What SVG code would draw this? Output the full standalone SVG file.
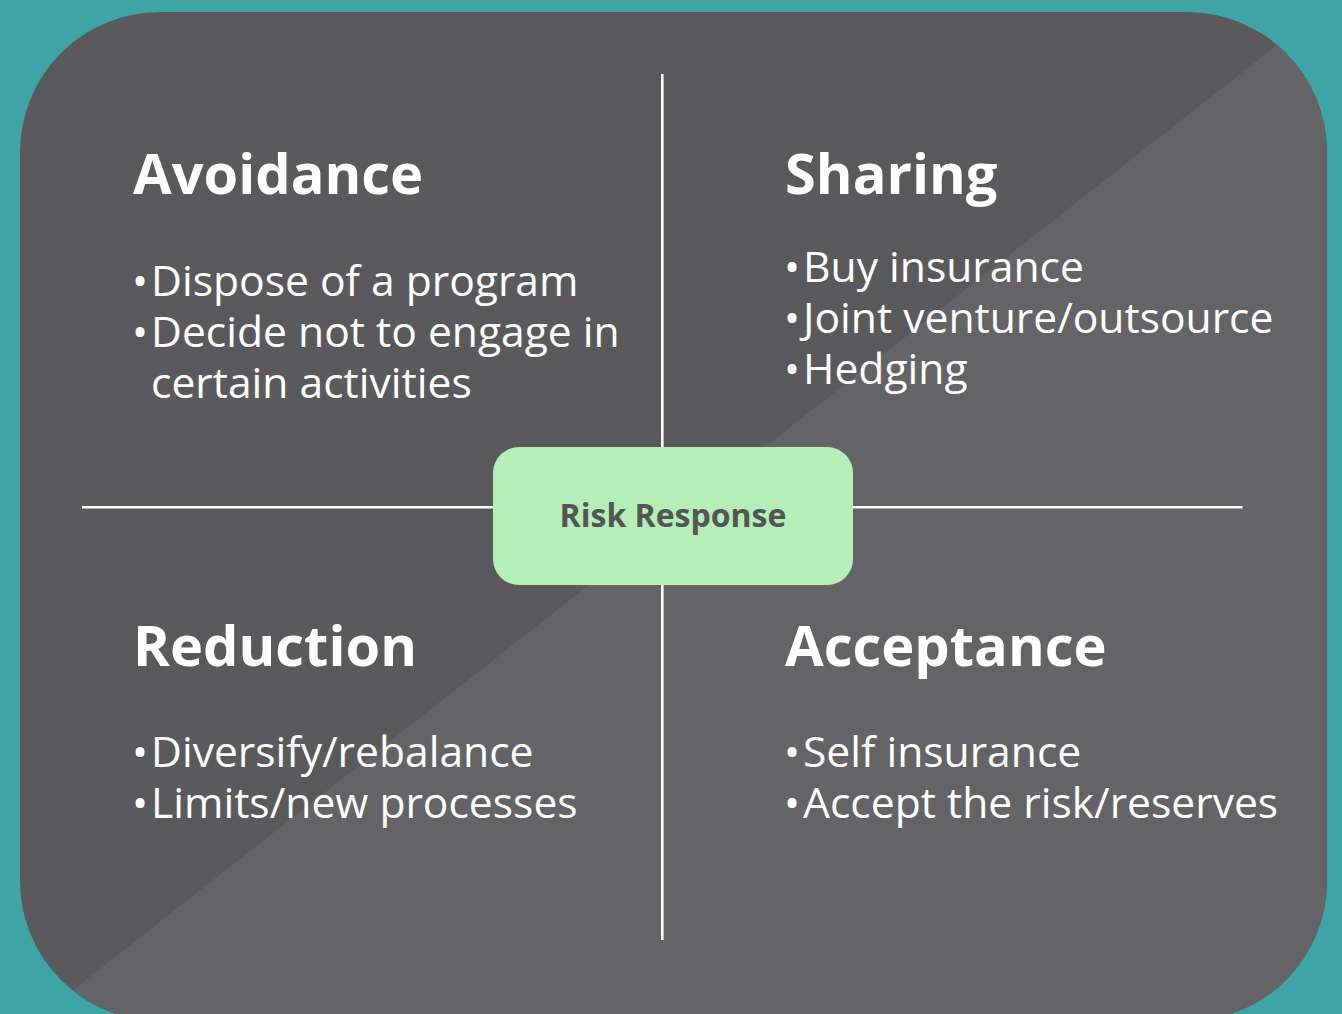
<svg xmlns="http://www.w3.org/2000/svg" width="1342" height="1014" viewBox="0 0 1342 1014">
  <style>
    .h { font-family: "Open Sans", "Liberation Sans", sans-serif; font-weight: 700; font-size: 56px; fill: #ffffff; }
    .b { font-family: "Open Sans", "Liberation Sans", sans-serif; font-weight: 400; font-size: 42.6px; fill: #ffffff; }
    .c { font-family: "Open Sans", "Liberation Sans", sans-serif; font-weight: 700; font-size: 32px; fill: #555555; }
    .ln { stroke: #ffffff; stroke-width: 2.6; }
  </style>
  <defs>
    <clipPath id="panelClip">
      <rect x="20" y="12" width="1307" height="1009" rx="140" ry="140"/>
    </clipPath>
  </defs>
  <rect x="0" y="0" width="1342" height="1014" fill="#3fa4a5"/>
  <g id="panel" clip-path="url(#panelClip)">
    <rect x="20" y="12" width="1307" height="1009" fill="#5a5a5c"/>
    <polygon points="1342,-6 1342,1100 0,1100 0,1047.3" fill="#646466"/>
  </g>
  <g id="connectors">
    <line class="ln" x1="662.3" y1="74" x2="662.3" y2="940"/>
    <line class="ln" x1="82" y1="507.3" x2="1242.5" y2="507.3"/>
  </g>
  <g id="center">
    <rect x="493" y="447" width="360" height="138" rx="26" ry="26" fill="#b3efb6"/>
    <text class="c" x="673" y="527" text-anchor="middle">Risk Response</text>
  </g>
  <g id="avoidance">
    <text class="h" x="133" y="194">Avoidance</text>
    <text class="b" x="132" y="296">•<tspan x="151">Dispose of a program</tspan></text>
    <text class="b" x="132" y="347">•<tspan x="151">Decide not to engage in</tspan></text>
    <text class="b" x="151" y="398">certain activities</text>
  </g>
  <g id="sharing">
    <text class="h" x="785" y="194">Sharing</text>
    <text class="b" x="784" y="282">•<tspan x="803">Buy insurance</tspan></text>
    <text class="b" x="784" y="333">•<tspan x="803">Joint venture/outsource</tspan></text>
    <text class="b" x="784" y="384">•<tspan x="803">Hedging</tspan></text>
  </g>
  <g id="reduction">
    <text class="h" x="133" y="666">Reduction</text>
    <text class="b" x="132" y="767">•<tspan x="151">Diversify/rebalance</tspan></text>
    <text class="b" x="132" y="818">•<tspan x="151">Limits/new processes</tspan></text>
  </g>
  <g id="acceptance">
    <text class="h" x="785" y="666">Acceptance</text>
    <text class="b" x="784" y="767">•<tspan x="803">Self insurance</tspan></text>
    <text class="b" x="784" y="818">•<tspan x="803">Accept the risk/reserves</tspan></text>
  </g>
</svg>
